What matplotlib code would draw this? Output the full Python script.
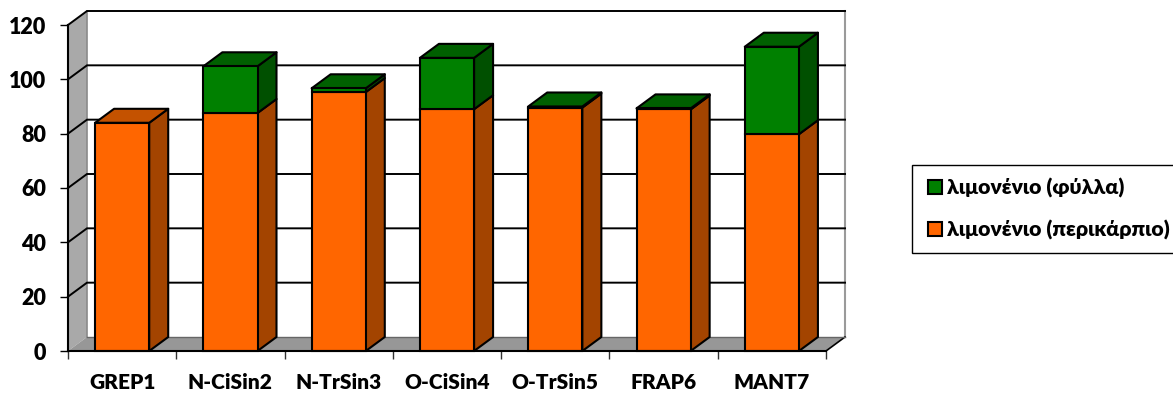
import matplotlib
matplotlib.use('Agg')
import matplotlib.pyplot as plt
from matplotlib.lines import Line2D
from matplotlib.patches import Polygon
import numpy as np

plt.rcParams['font.family'] = ['Lato', 'Noto Sans', 'DejaVu Sans']

categories = ['GREP1', 'N-CiSin2', 'N-TrSin3', 'O-CiSin4', 'O-TrSin5', 'FRAP6', 'MANT7']
peel = [84.0, 87.6, 95.3, 89.0, 89.6, 88.9, 79.8]
leaves = [0.0, 17.2, 1.4, 18.9, 0.4, 0.4, 32.2]
yticks = [0, 20, 40, 60, 80, 100, 120]
legend_labels = ['λιμονένιο (φύλλα)', 'λιμονένιο (περικάρπιο)']

W, H = 1173, 393
fig = plt.figure(figsize=(W / 100, H / 100), dpi=100)
ax = fig.add_axes([68 / W, 1 - 351 / H, 758 / W, 326 / H])
ax.set_xlim(-0.5, 6.5)
ax.set_ylim(0, 120)

# depth of the box and of the bars, in data units
px_x = 7 / 758
px_y = 120 / 326
dx, dy = 19 * px_x, 14 * px_y
bar_w = 0.5
xl, xr = -0.5, 6.5
ytop = 120


def poly(pts, fc, ec='none', lw=0, z=1):
    ax.add_patch(Polygon(pts, closed=True, facecolor=fc, edgecolor=ec, linewidth=lw,
                         zorder=z, clip_on=False, joinstyle='round'))


# walls and floor
poly([(xl, 0), (xl + dx, dy), (xl + dx, ytop + dy), (xl, ytop)], '#a9a9a9', z=1)
poly([(xl, 0), (xr, 0), (xr + dx, dy), (xl + dx, dy)], '#979797', z=1)
ax.plot([xl + dx, xl + dx], [dy, ytop + dy], color='#8a8a8a', lw=1.2, zorder=2, clip_on=False)
ax.plot([xr + dx, xr + dx], [dy, ytop + dy], color='#9a9a9a', lw=1.5, zorder=2, clip_on=False)
ax.plot([xr, xr + dx], [0, dy], color='black', lw=1.2, zorder=2, clip_on=False)

# gridlines run across the left wall and then along the back wall
for v in yticks[1:]:
    ax.plot([xl, xl + dx, xr + dx], [v, v + dy, v + dy], color='black', lw=1.4,
            zorder=2, clip_on=False, solid_joinstyle='miter')
ax.plot([xl + dx, xr + dx], [dy, dy], color='#666666', lw=1.0, zorder=2, clip_on=False)


def box(x, y0, y1, front, side, top, show_top, z):
    x0, x1 = x - bar_w / 2, x + bar_w / 2
    poly([(x1, y0), (x1 + dx, y0 + dy), (x1 + dx, y1 + dy), (x1, y1)], side, 'black', 1.5, z)
    if show_top:
        poly([(x0, y1), (x1, y1), (x1 + dx, y1 + dy), (x0 + dx, y1 + dy)], top, 'black', 1.5, z)
    ax.bar(x, y1 - y0, bar_w, bottom=y0, color=front, edgecolor='black', linewidth=1.5,
           zorder=z, clip_on=False)


for i in range(len(categories)):
    z = 3 + i
    box(i, 0, peel[i], '#ff6600', '#a34400', '#c45200', leaves[i] == 0, z)
    if leaves[i] > 0:
        box(i, peel[i], peel[i] + leaves[i], '#008000', '#005000', '#006000', True, z)

# front axis lines and ticks
for s in ['top', 'right']:
    ax.spines[s].set_visible(False)
for s in ['left', 'bottom']:
    ax.spines[s].set_linewidth(1.5)
    ax.spines[s].set_zorder(20)
ax.set_yticks(yticks)
ax.set_yticklabels(yticks, fontsize=15.5, fontweight='heavy')
ax.tick_params(axis='y', length=6, width=1, pad=10)
ax.set_xticks(range(len(categories)))
ax.set_xticklabels(categories, fontsize=15, fontweight='heavy')
ax.set_xticks(np.arange(xl, xr + 1), minor=True)
ax.tick_params(axis='x', which='major', length=0, pad=15.5)
ax.tick_params(axis='x', which='minor', length=6, width=1, color='#333333')

handles = [Line2D([], [], linestyle='none', marker='s', markersize=9.5, markerfacecolor='#008000',
                  markeredgecolor='black', markeredgewidth=1.5),
           Line2D([], [], linestyle='none', marker='s', markersize=9.5, markerfacecolor='#ff6600',
                  markeredgecolor='black', markeredgewidth=1.5)]
leg = fig.legend(handles, legend_labels, loc='upper left',
                 bbox_to_anchor=(912 / W, 1 - 165 / H), bbox_transform=fig.transFigure,
                 prop={'size': 15.3, 'weight': 'heavy'}, fancybox=False, framealpha=1,
                 edgecolor='black', handlelength=1.0, handletextpad=0.05, labelspacing=1.05,
                 borderpad=0.6, borderaxespad=0)
leg.get_frame().set_linewidth(1.0)

fig.savefig('out.png', dpi=100)
